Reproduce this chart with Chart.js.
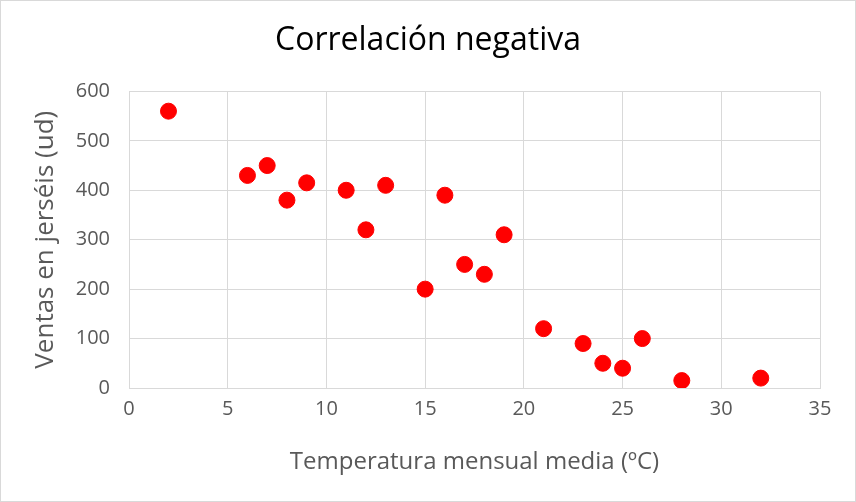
<!DOCTYPE html>
<html>
<head>
<meta charset="utf-8">
<script src="https://cdn.jsdelivr.net/npm/chart.js@4"></script>
<style>
  body { margin: 0; background: #fff; }
  #wrap { width: 856px; height: 502px; box-sizing: border-box; border: 1px solid #d9d9d9; }
</style>
</head>
<body>
<div id="wrap"><canvas id="data-chart" width="854" height="500"></canvas></div>
<script>
// Temperature (x) and jersey sales (y)
const temperaturas = [2, 6, 7, 8, 9, 11, 12, 13, 15, 16, 17, 18, 19, 21, 23, 24, 25, 26, 28, 32];
const ventas = [560, 430, 450, 380, 415, 400, 320, 410, 200, 390, 250, 230, 310, 120, 90, 50, 40, 100, 15, 20];

// Axis ticks
const xTicks = [0, 5, 10, 15, 20, 25, 30, 35];
const yTicks = [0, 100, 200, 300, 400, 500, 600];

const fontFamily = "'Open Sans', sans-serif";
const gridColor = "#d9d9d9";
const textColor = "#595959";

function createChart() {
  const ctx = document.getElementById("data-chart").getContext("2d");
  const points = temperaturas.map((t, i) => ({ x: t, y: ventas[i] }));

  new Chart(ctx, {
    type: "scatter",
    data: {
      datasets: [
        {
          data: points,
          backgroundColor: "#ff0000",
          borderColor: "#ff0000",
          pointRadius: 8,
          pointHoverRadius: 8,
        },
      ],
    },
    options: {
      responsive: false,
      animation: false,
      plugins: {
        legend: { display: false },
        tooltip: { enabled: false },
        title: {
          display: true,
          text: "Correlación negativa",
          color: "#000",
          font: { family: fontFamily, size: 32, weight: "normal", lineHeight: 1.2 },
          padding: { top: 21, bottom: 31 },
        },
      },
      scales: {
        x: {
          type: "linear",
          min: xTicks[0],
          max: xTicks[xTicks.length - 1],
          afterBuildTicks: (scale) => { scale.ticks = xTicks.map((v) => ({ value: v })); },
          afterFit: (scale) => {
            scale.height = 113;
            scale.paddingRight = 35;
          },
          grid: { color: gridColor, drawTicks: false },
          border: { color: gridColor },
          ticks: { color: textColor, font: { family: fontFamily, size: 20 }, padding: 9 },
          title: {
            display: true,
            text: "Temperatura mensual media (ºC)",
            color: textColor,
            font: { family: fontFamily, size: 24, lineHeight: 1.2 },
            padding: { top: 24, bottom: 24 },
          },
        },
        y: {
          type: "linear",
          min: yTicks[0],
          max: yTicks[yTicks.length - 1],
          afterBuildTicks: (scale) => { scale.ticks = yTicks.map((v) => ({ value: v })); },
          afterFit: (scale) => { scale.width = 128; },
          grid: { color: gridColor, drawTicks: false },
          border: { color: gridColor },
          ticks: { color: textColor, font: { family: fontFamily, size: 20 }, padding: 19 },
          title: {
            display: true,
            text: "Ventas en jerséis (ud)",
            color: textColor,
            font: { family: fontFamily, size: 26, lineHeight: 1.2 },
            padding: { top: 29, bottom: 29 },
          },
        },
      },
    },
  });
}

document.addEventListener("DOMContentLoaded", function () {
  createChart();
});
</script>
</body>
</html>
